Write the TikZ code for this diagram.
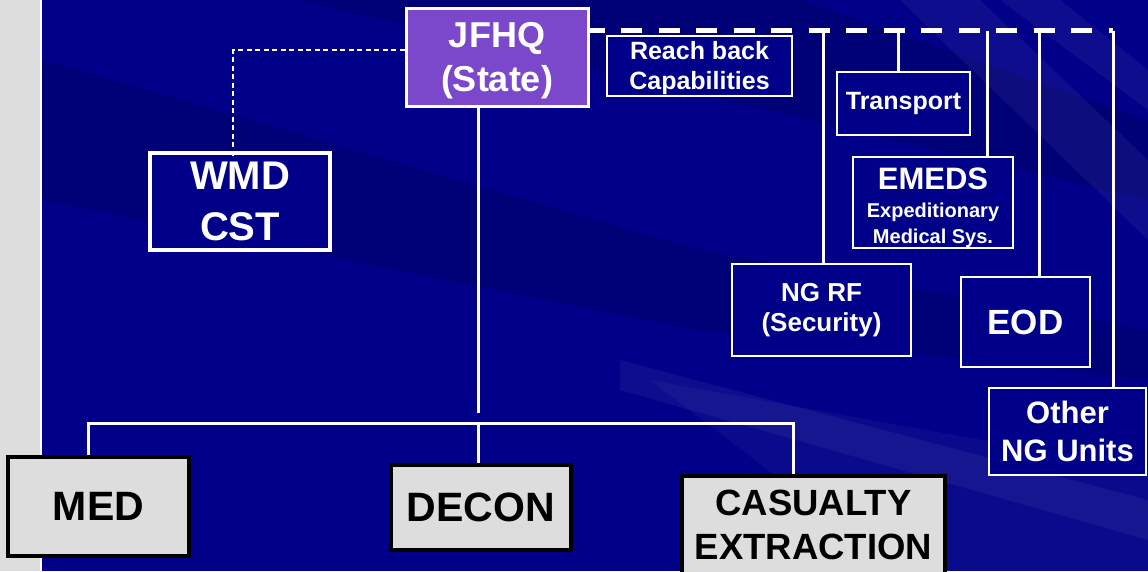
\documentclass[tikz,border=0pt]{standalone}
\usepackage{fontspec}
\setmainfont{Liberation Sans}
\definecolor{navy}{HTML}{000088}
\definecolor{jpurple}{HTML}{7B48CC}
\definecolor{lgray}{HTML}{DDDDDD}
\tikzset{
  wbox/.style={draw=white, fill=navy, text=white, line width=2.5pt, inner sep=0pt, align=center},
  gbox/.style={draw=black, fill=lgray, text=black, line width=3.5pt, inner sep=0pt, align=center},
  txt/.style={inner sep=0pt, align=center},
  wline/.style={draw=white, line width=3pt},
  bigdash/.style={draw=white, line width=4.5pt, dash pattern=on 21pt off 16.5pt, dash phase=6pt},
  thindash/.style={draw=white, line width=1.8pt, dash pattern=on 5pt off 3.5pt},
  streak/.style={fill=white, opacity=0.05},
  darkstreak/.style={fill=black, opacity=0.12},
}
\newcommand{\fsz}[2]{\bfseries\fontsize{#1}{#2}\selectfont}
\begin{document}
\begin{tikzpicture}[x=1pt,y=-1pt]
\useasboundingbox (0,0) rectangle (1148,571);
\clip (0,0) rectangle (1148,571);
% background
\fill[lgray] (0,0) rectangle (40,571);
\fill[white] (40,0) rectangle (42,571);
\fill[navy] (42,0) rectangle (1148,571);
\begin{scope}
\clip (42,0) rectangle (1148,571);
\fill[darkstreak] (42,60) -- (700,250) -- (1148,330) -- (1148,380) -- (700,330) -- (42,200) -- cycle;
\fill[darkstreak] (300,0) -- (800,0) -- (1148,120) -- (1148,200) -- cycle;
\fill[streak, opacity=0.04] (650,380) -- (1148,470) -- (1148,571) -- (900,571) -- cycle;
\fill[streak] (620,360) -- (1148,500) -- (1148,540) -- (620,390) -- cycle;
\fill[streak] (900,0) -- (980,0) -- (1148,160) -- (1148,240) -- cycle;
\fill[streak] (1000,0) -- (1060,0) -- (1148,70) -- (1148,110) -- cycle;
\end{scope}
% nodes
\node[wbox, fill=jpurple, line width=3pt, minimum width=182pt, minimum height=98pt] (jfhq) at (497,57) {};
\node[txt, text=white, font=\fsz{36}{44}] (jfhqtext) at (497,61) {JFHQ\\(State)};
\node[wbox, line width=2pt, minimum width=185pt, minimum height=60pt] (reach) at (699.5,66) {};
\node[txt, text=white, font=\fsz{25}{30}] (reachtext) at (699.5,68) {Reach back\\Capabilities};
\node[wbox, line width=3.5pt, minimum width=180pt, minimum height=97pt,
      font=\fsz{40}{51}] (wmd) at (240,201.5) {WMD\\CST};
\node[wbox, minimum width=133pt, minimum height=63pt,
      font=\fsz{25}{30}] (transport) at (903.5,103.5) {Transport};
\node[wbox, minimum width=160pt, minimum height=91pt] (emeds) at (933,202.5) {};
\node[txt, text=white, font=\fsz{20}{26}] (emedstext) at (933,207.5) {{\fontsize{31}{31}\selectfont EMEDS}\\[2pt]Expeditionary\\Medical Sys.};
\node[wbox, minimum width=179pt, minimum height=92pt,
      font=\fsz{26}{30}] (ngrf) at (821.5,310) {NG RF\\(Security)};
\node[wbox, minimum width=129pt, minimum height=90pt,
      font=\fsz{35}{40}] (eod) at (1025.5,322) {EOD};
\node[wbox, minimum width=157pt, minimum height=87pt,
      font=\fsz{31}{38}] (other) at (1067.5,431.5) {Other\\NG Units};
\node[gbox, minimum width=181pt, minimum height=99pt,
      font=\fsz{41}{46}] (med) at (98.5,506.5) {MED};
\node[gbox, minimum width=180pt, minimum height=85pt,
      font=\fsz{41}{46}] (decon) at (481,507.5) {DECON};
\node[gbox, minimum width=263pt, minimum height=120pt] (cas) at (813.5,536) {};
\node[txt, text=black, font=\fsz{36.5}{44}] (castext) at (813.5,525) {CASUALTY\\EXTRACTION};
% coordinates
\coordinate (wmdturn) at (233,50);
\coordinate (topy) at (0,30.5);
\coordinate (topr) at (1113,30.5);
\coordinate (gapend) at (478,413);
\coordinate (busl) at (88,423);
\coordinate (busm) at (478,423);
\coordinate (busr) at (793,423);
% connectors
\draw[thindash] (jfhq.west |- wmdturn) -- (wmdturn) -- ([yshift=-5pt]wmd.north -| wmdturn);
\draw[bigdash] (jfhq.east |- topy) -- (topr);
\draw[wline] (topr) -- (other.north -| topr);
\draw[wline] (823,30.5) -- (ngrf.north -| 823,0);
\draw[wline] (898,30.5) -- (transport.north -| 898,0);
\draw[wline] (987,30.5) -- (emeds.north -| 987,0);
\draw[wline] (1039,30.5) -- (eod.north -| 1039,0);
\draw[wline] (jfhq.south -| gapend) -- (gapend);
\draw[wline] (med.north -| busl) |- (busr) -- (cas.north -| busr);
\draw[wline] (busm) -- (decon.north -| busm);
\end{tikzpicture}
\end{document}
